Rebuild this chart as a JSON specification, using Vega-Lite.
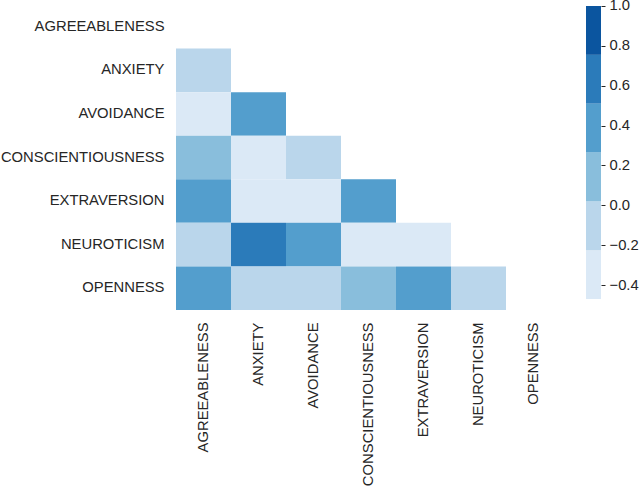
{
  "$schema": "https://vega.github.io/schema/vega-lite/v6.json",
  "padding": {"left": 0, "top": -3, "right": 5, "bottom": 0},
  "config": {
    "view": {"stroke": null},
    "font": "Liberation Sans",
    "axis": {"labelFont": "Liberation Sans", "labelFontSize": 14.8, "labelColor": "#262626", "title": null, "grid": false, "domain": false}
  },
  "spacing": 25,
  "resolve": {"scale": {"color": "shared", "x": "independent", "y": "independent"}},
  "hconcat": [
    {
      "width": 385,
      "height": 305,
      "data": {"values": [
        {"row": "ANXIETY", "col": "AGREEABLENESS", "r": -0.15},
        {"row": "AVOIDANCE", "col": "AGREEABLENESS", "r": -0.3},
        {"row": "AVOIDANCE", "col": "ANXIETY", "r": 0.35},
        {"row": "CONSCIENTIOUSNESS", "col": "AGREEABLENESS", "r": 0.2},
        {"row": "CONSCIENTIOUSNESS", "col": "ANXIETY", "r": -0.25},
        {"row": "CONSCIENTIOUSNESS", "col": "AVOIDANCE", "r": -0.1},
        {"row": "EXTRAVERSION", "col": "AGREEABLENESS", "r": 0.35},
        {"row": "EXTRAVERSION", "col": "ANXIETY", "r": -0.3},
        {"row": "EXTRAVERSION", "col": "AVOIDANCE", "r": -0.3},
        {"row": "EXTRAVERSION", "col": "CONSCIENTIOUSNESS", "r": 0.3},
        {"row": "NEUROTICISM", "col": "AGREEABLENESS", "r": -0.15},
        {"row": "NEUROTICISM", "col": "ANXIETY", "r": 0.6},
        {"row": "NEUROTICISM", "col": "AVOIDANCE", "r": 0.35},
        {"row": "NEUROTICISM", "col": "CONSCIENTIOUSNESS", "r": -0.3},
        {"row": "NEUROTICISM", "col": "EXTRAVERSION", "r": -0.35},
        {"row": "OPENNESS", "col": "AGREEABLENESS", "r": 0.35},
        {"row": "OPENNESS", "col": "ANXIETY", "r": -0.1},
        {"row": "OPENNESS", "col": "AVOIDANCE", "r": -0.1},
        {"row": "OPENNESS", "col": "CONSCIENTIOUSNESS", "r": 0.15},
        {"row": "OPENNESS", "col": "EXTRAVERSION", "r": 0.35},
        {"row": "OPENNESS", "col": "NEUROTICISM", "r": -0.15}
      ]},
      "mark": {"type": "rect"},
      "encoding": {
        "x": {"field": "col", "type": "nominal",
          "scale": {"domain": ["AGREEABLENESS", "ANXIETY", "AVOIDANCE", "CONSCIENTIOUSNESS", "EXTRAVERSION", "NEUROTICISM", "OPENNESS"], "paddingInner": 0, "paddingOuter": 0},
          "axis": {"labelAngle": -90, "ticks": false, "labelPadding": 12}},
        "y": {"field": "row", "type": "nominal",
          "scale": {"domain": ["AGREEABLENESS", "ANXIETY", "AVOIDANCE", "CONSCIENTIOUSNESS", "EXTRAVERSION", "NEUROTICISM", "OPENNESS"], "paddingInner": 0, "paddingOuter": 0},
          "axis": {"ticks": false, "labelPadding": 12}},
        "color": {"field": "r", "type": "quantitative",
          "scale": {"type": "quantize", "domain": [-0.47, 1.0], "nice": false, "range": ["#dbe9f6", "#bad6eb", "#89bedc", "#539ecd", "#2b7bba", "#0b559f"]},
          "legend": null}
      }
    },
    {
      "width": 15,
      "height": 305,
      "data": {"values": [
        {"lo": -0.47, "hi": -0.225, "mid": -0.35},
        {"lo": -0.225, "hi": 0.02, "mid": -0.1},
        {"lo": 0.02, "hi": 0.265, "mid": 0.15},
        {"lo": 0.265, "hi": 0.51, "mid": 0.4},
        {"lo": 0.51, "hi": 0.755, "mid": 0.6},
        {"lo": 0.755, "hi": 1.0, "mid": 0.9}
      ]},
      "mark": {"type": "rect"},
      "encoding": {
        "y": {"field": "lo", "type": "quantitative",
          "scale": {"domain": [-0.525, 1.005], "nice": false, "zero": false},
          "axis": {"orient": "right", "values": [-0.4, -0.2, 0, 0.2, 0.4, 0.6, 0.8, 1.0], "format": ".1f", "tickSize": 4, "tickColor": "#262626", "labelPadding": 4}},
        "y2": {"field": "hi"},
        "color": {"field": "mid", "type": "quantitative",
          "scale": {"type": "quantize", "domain": [-0.47, 1.0], "nice": false, "range": ["#dbe9f6", "#bad6eb", "#89bedc", "#539ecd", "#2b7bba", "#0b559f"]},
          "legend": null}
      }
    }
  ]
}
